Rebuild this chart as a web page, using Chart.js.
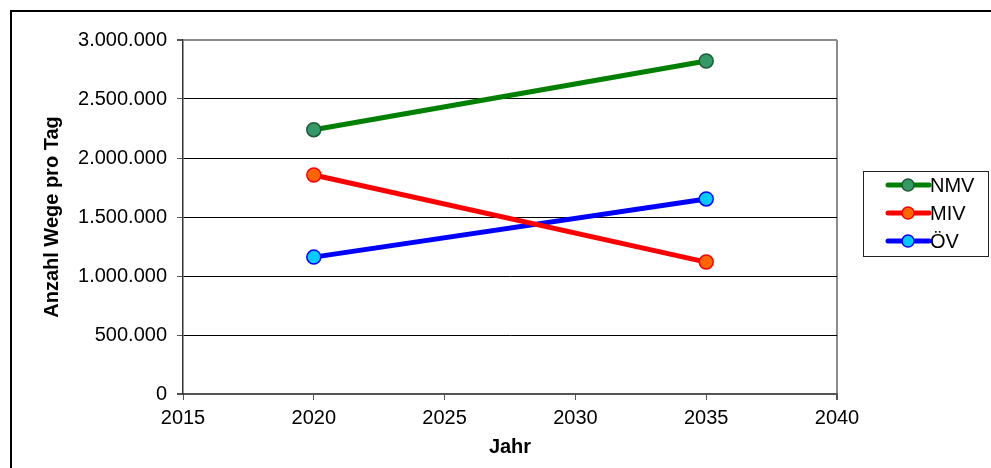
<!DOCTYPE html>
<html>
<head>
<meta charset="utf-8">
<script src="https://cdn.jsdelivr.net/npm/chart.js@4"></script>
<style>
  html, body { margin: 0; padding: 0; background: #fff; }
  #frame { position: absolute; left: 10px; top: 10px; width: 990px; height: 470px;
           border-left: 2px solid #000; border-top: 2px solid #000; box-sizing: border-box; }
  #wrap { position: absolute; left: 0; top: 0; width: 991px; height: 468px; }
</style>
</head>
<body>
<div id="frame"></div>
<div id="wrap"><canvas id="chart" width="991" height="468"></canvas></div>
<script>
// data
const years = [2020, 2035];
const nmv = [2240000, 2822000];
const miv = [1856000, 1118000];
const oev = [1160000, 1653000];
const seriesNames = ['NMV', 'MIV', 'ÖV'];
const xTicks = [2015, 2020, 2025, 2030, 2035, 2040];
const yMax = 3000000;

const FONT = 'Liberation Sans, Arial, sans-serif';

function toPoints(values) {
  return years.map((y, i) => ({ x: y, y: values[i] }));
}

function fmt(v) {
  return String(v).replace(/\B(?=(\d{3})+(?!\d))/g, '.');
}

// legend with line + marker inside a box, like the original
const boxLegend = {
  id: 'boxLegend',
  afterDraw(chart) {
    const ctx = chart.ctx;
    ctx.save();
    ctx.strokeStyle = '#222';
    ctx.lineWidth = 1;
    ctx.strokeRect(863.5, 171.5, 125, 85);
    chart.data.datasets.forEach((ds, i) => {
      const y = 185 + i * 28;
      ctx.strokeStyle = ds.borderColor;
      ctx.lineWidth = 5;
      ctx.lineCap = 'round';
      ctx.beginPath();
      ctx.moveTo(888, y);
      ctx.lineTo(929, y);
      ctx.stroke();
      ctx.beginPath();
      ctx.arc(908, y, 6, 0, Math.PI * 2);
      ctx.fillStyle = ds.pointBackgroundColor;
      ctx.fill();
      ctx.lineWidth = 1.5;
      ctx.strokeStyle = ds.pointBorderColor;
      ctx.stroke();
      ctx.fillStyle = '#000';
      ctx.font = '20px ' + FONT;
      ctx.textBaseline = 'middle';
      ctx.textAlign = 'left';
      ctx.fillText(ds.label, 930, y + 1);
    });
    ctx.restore();
  }
};

new Chart(document.getElementById('chart'), {
  type: 'line',
  data: {
    datasets: [
      { label: seriesNames[0], data: toPoints(nmv), borderColor: '#008000', borderWidth: 5,
        pointBackgroundColor: '#339966', pointBorderColor: '#1f5a35', pointRadius: 7, pointBorderWidth: 1.5 },
      { label: seriesNames[1], data: toPoints(miv), borderColor: '#ff0000', borderWidth: 5,
        pointBackgroundColor: '#ff6600', pointBorderColor: '#ff0000', pointRadius: 7, pointBorderWidth: 1.5 },
      { label: seriesNames[2], data: toPoints(oev), borderColor: '#0000ff', borderWidth: 5,
        pointBackgroundColor: '#00ccff', pointBorderColor: '#0000ff', pointRadius: 7, pointBorderWidth: 1.5 }
    ]
  },
  options: {
    responsive: false,
    animation: false,
    layout: { padding: { left: 0, top: 40, right: 154, bottom: 0 } },
    plugins: { legend: { display: false }, tooltip: { enabled: false } },
    scales: {
      x: {
        type: 'linear',
        min: xTicks[0],
        max: xTicks[xTicks.length - 1],
        afterBuildTicks(scale) { scale.ticks = xTicks.map(v => ({ value: v })); },
        afterFit(scale) { scale.height = 74; },
        ticks: { color: '#000', font: { family: FONT, size: 20 }, padding: 6, maxRotation: 0,
                 callback: v => String(v) },
        grid: {
          drawOnChartArea: true,
          tickLength: 6,
          tickColor: '#555',
          color: c => (c.tick && c.tick.value === 2040) ? '#8c8c8c' : 'rgba(0,0,0,0)',
          lineWidth: c => (c.tick && c.tick.value === 2040) ? 2 : 1
        },
        border: { display: true, color: '#555', width: 2 },
        title: { display: true, text: 'Jahr', color: '#000',
                 font: { family: FONT, size: 20, weight: 'bold' }, padding: { top: 0, bottom: 9 } }
      },
      y: {
        min: 0,
        max: yMax,
        afterFit(scale) { scale.width = 183; },
        ticks: { stepSize: 500000, color: '#000', font: { family: FONT, size: 20 }, padding: 10,
                 callback: v => fmt(v) },
        grid: {
          tickLength: 6,
          tickColor: '#555',
          color: c => (c.tick && c.tick.value === yMax) ? '#8c8c8c' : (c.tick && c.tick.value === 0 ? '#555' : '#000'),
          lineWidth: c => (c.tick && (c.tick.value === yMax || c.tick.value === 0)) ? 2 : 1
        },
        border: { display: true, color: '#333', width: 1.5 },
        title: { display: true, text: 'Anzahl Wege pro Tag', color: '#000',
                 font: { family: FONT, size: 20, weight: 'bold' }, padding: { top: 40, bottom: 0 } }
      }
    }
  },
  plugins: [boxLegend]
});
</script>
</body>
</html>
